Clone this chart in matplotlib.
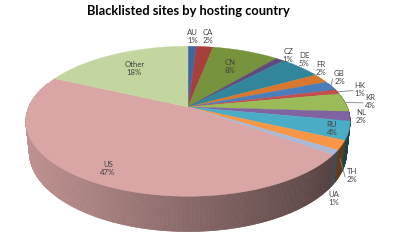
import numpy as np
import matplotlib
matplotlib.use("Agg")
import matplotlib.pyplot as plt
from matplotlib.patches import Polygon

countries = ["AU", "CA", "CN", "CZ", "DE", "FR", "GB", "HK", "KR", "NL",
             "RU", "TH", "UA", "US", "Other"]
shares = [1, 2, 8, 1, 5, 2, 2, 1, 4, 2, 4, 2, 1, 47, 18]
colors = ["#3C67A5", "#A7403D", "#77933C", "#604A7B", "#31869B", "#D8772E",
          "#4A7EBB", "#C0504D", "#9BBB59", "#8064A2", "#4BACC6", "#F79646",
          "#A9B9D6", "#D9A6A5", "#C4D6A0"]

# label placement: radius factor, angle shift (deg), height below top
lab_r = [1.2, 1.2, 0.7, 1.1, 1.12, 1.1, 1.12, 1.16, 1.16, 1.07, 0.9, 1.08, 1.02, 0.85, 0.7]
lab_da = [0, 0, 0, 0, -4, -7, -5, 0, 0, 0, 0, 0, 0, 0, 0]
lab_z = [0, 0, 0, 0, 0, 0, 0, 0, 0, 0, 0, -0.18, -0.3, 0, 0]
leader = ["GB", "HK", "KR", "TH"]

# simple perspective camera
phi = np.radians(27)
s, c = np.sin(phi), np.cos(phi)
D, F = 4.68, 745.0
CX, CY = 188.0, 107.0
H = 0.22


def proj(a, r=1.0, z=0.0):
    a = np.radians(a)
    x = r * np.sin(a)
    y = r * np.cos(a)
    depth = D + y * c - z * s
    return CX + F * x / depth, CY - F * (y * s + z * c) / depth, depth


def shade(col, f):
    rgb = np.array(matplotlib.colors.to_rgb(col))
    return tuple(np.clip(rgb * f, 0, 1))


fig = plt.figure(figsize=(4, 2.43), dpi=100)
ax = fig.add_axes([0, 0, 1, 1])
ax.set_xlim(0, 400)
ax.set_ylim(243, 0)
ax.axis("off")

edges = np.concatenate([[0], np.cumsum(shares)]) / sum(shares) * 360.0

# side wall
quads = []
for i in range(len(shares)):
    a0, a1 = max(edges[i], 70), min(edges[i + 1], 290)
    if a1 <= a0:
        continue
    n = max(2, int((a1 - a0) / 0.5) + 1)
    ang = np.linspace(a0, a1, n)
    for k in range(n - 1):
        p1 = proj(ang[k]); p2 = proj(ang[k + 1])
        p3 = proj(ang[k + 1], z=-H); p4 = proj(ang[k], z=-H)
        xm = (p1[0] + p2[0]) / 2
        f = 0.88 - 0.5 * (xm - 26) / 324
        quads.append(((p1[2] + p2[2]) / 2,
                      [p1[:2], p2[:2], p3[:2], p4[:2]], shade(colors[i], f)))
quads.sort(key=lambda q: -q[0])
for _, pts, col in quads:
    ax.add_patch(Polygon(pts, closed=True, fc=col, ec=col, lw=0.5))

# top face
for i in range(len(shares)):
    ang = np.linspace(edges[i], edges[i + 1], max(3, int(edges[i + 1] - edges[i]) + 2))
    pts = [(CX, CY)] + [proj(a)[:2] for a in ang]
    ax.add_patch(Polygon(pts, closed=True, fc=colors[i], ec=colors[i], lw=0.3))

# labels
for i, name in enumerate(countries):
    mid = (edges[i] + edges[i + 1]) / 2
    lx, ly, _ = proj(mid + lab_da[i], lab_r[i], lab_z[i])
    ax.text(lx, ly, f"{name}\n{shares[i]}%", ha="center", va="center",
            fontsize=5.6, color="#404040", family="Lato", linespacing=1.15)
    if name in leader:
        x0, y0, _ = proj(mid, 1.0, lab_z[i] * 0.5)
        ax.plot([x0, lx - 7], [y0, ly + 1], color="#808080", lw=0.6)

ax.text(188, 11, "Blacklisted sites by hosting country", ha="center", va="center",
        fontsize=9.3, fontweight="bold", family="Lato", color="#000000")

fig.savefig("out.png", dpi=100, facecolor="white")
